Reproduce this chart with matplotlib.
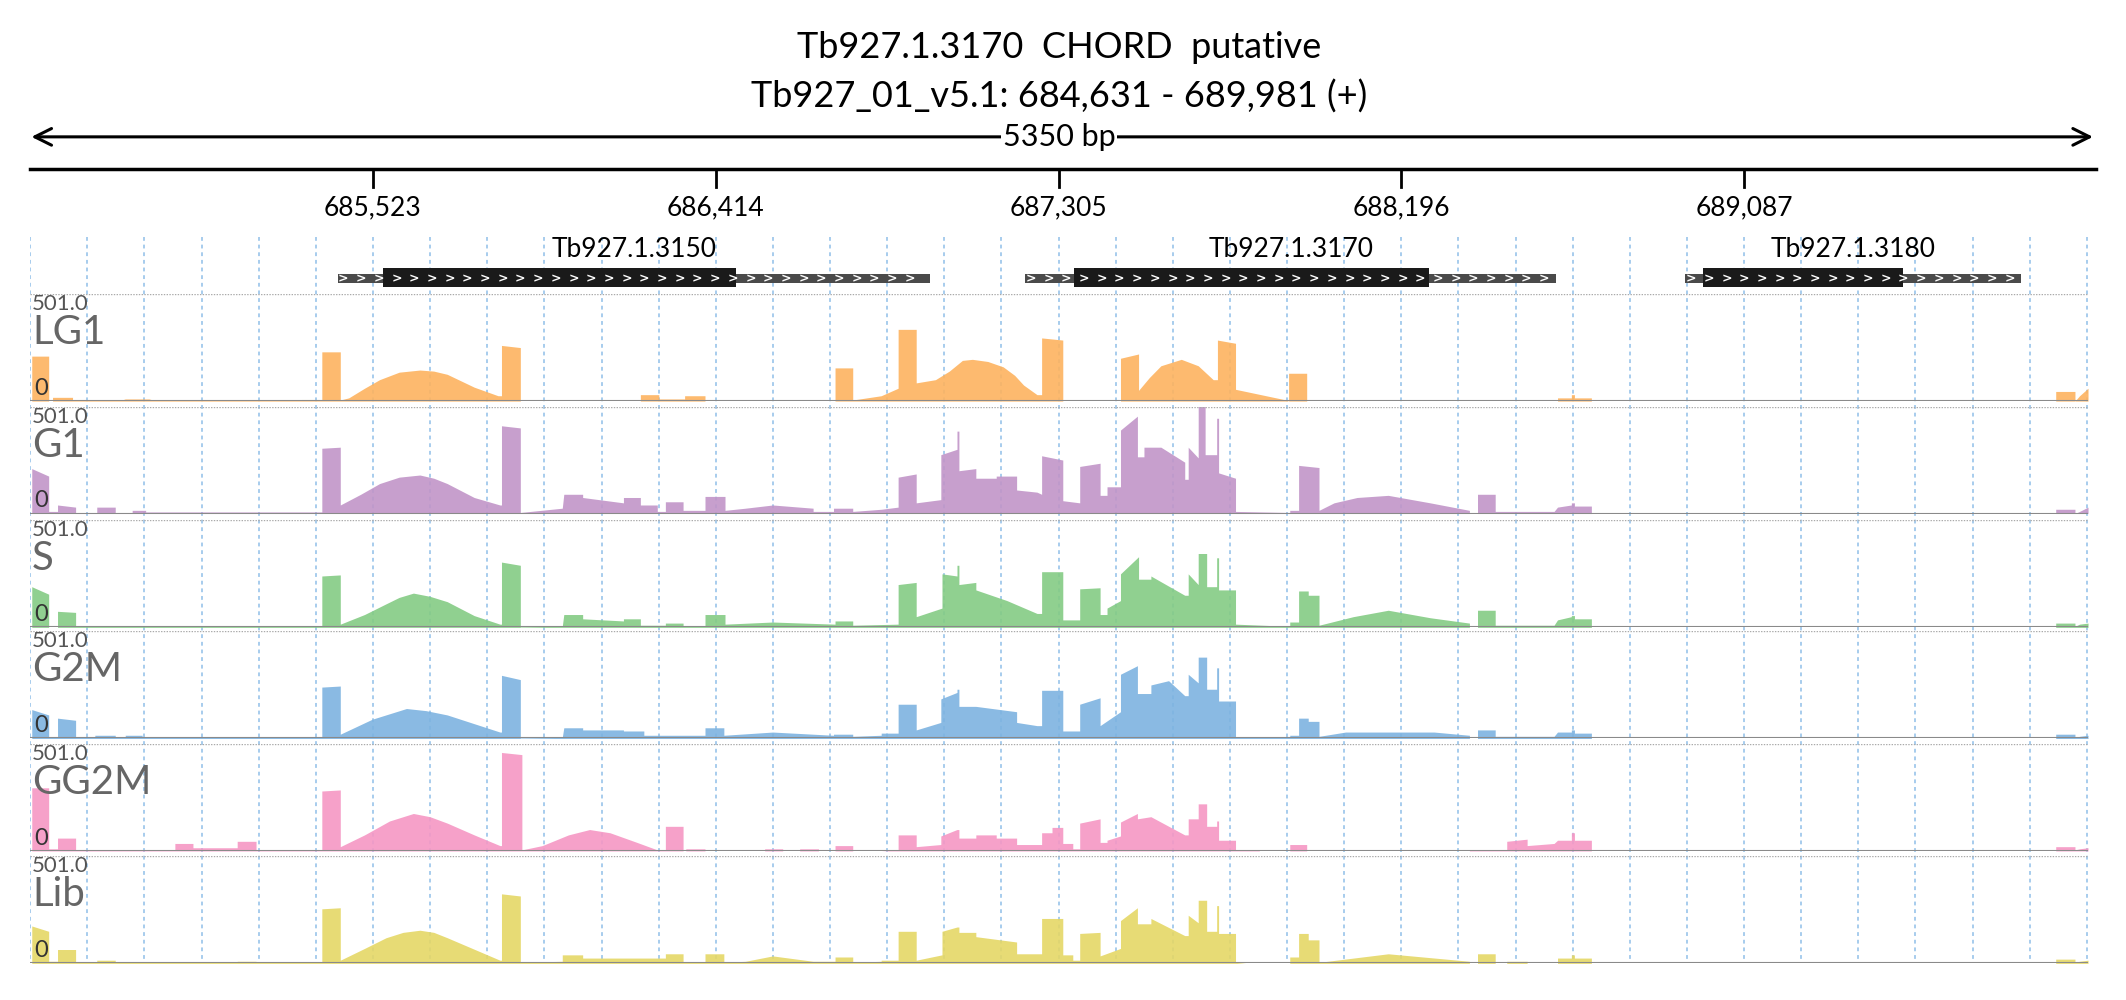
import numpy as np
import matplotlib
matplotlib.use("Agg")
import matplotlib.pyplot as plt

START, END = 684631, 689981
title1 = "Tb927.1.3170  CHORD  putative"
title2 = "Tb927_01_v5.1: 684,631 - 689,981 (+)"
tick_pos = [685523, 686414, 687305, 688196, 689087]
grid_step = 148.5

# genes: name, utr start/end, cds start/end (offsets from START)
gene_names = ["Tb927.1.3150", "Tb927.1.3170", "Tb927.1.3180"]
gene_utr = [(800, 2340), (2587, 3968), (4303, 5177)]
gene_cds = [(917, 1836), (2713, 3637), (4349, 4870)]

track_names = ["LG1", "G1", "S", "G2M", "GG2M", "Lib"]
track_colors = ["#fdb35f", "#c195c8", "#84cb84", "#7db3e0", "#f597c4", "#e5d766"]
track_max = 501.0

# coverage profiles: (offset bp, % of 501)
lg1 = [(0,0),(5,0),(5,42),(49,42),(49,0),(59,0),(59,3.5),(111,3.5),(111,1),(239,1),(248,2),(310,2),(320,1),(706,1),(706,1.5),(759,1.5),(759,46),(807,46),(807,1),(829,3),(870,12),(909,20),(960,27),(1014,29),(1050,28),(1085,25),(1120,19),(1155,13),(1217,5),(1226,5),(1226,52),(1275,50),(1275,0),(1587,0),(1587,6),(1635,6),(1635,2),(1702,2),(1702,5),(1755,5),(1755,0),(2093,0),(2093,31),(2139,31),(2139,1),(2213,5),(2257,12),(2257,67),(2304,67),(2304,17),(2354,20),(2390,28),(2424,38),(2450,39),(2490,37),(2530,32),(2560,24),(2583,15),(2618,6),(2630,6),(2630,59),(2685,57),(2685,0),(2835,0),(2835,40),(2882,44),(2882,10),(2910,22),(2940,33),(2993,39),(3037,33),(3076,20),(3087,20),(3087,57),(3134,54),(3134,11),(3266,1),(3272,0),(3272,26),(3319,26),(3319,0),(3971,0),(3971,3),(4007,3),(4007,6),(4015,6),(4015,3),(4059,3),(4059,0),(5266,0),(5266,9),(5316,9),(5316,0),(5328,5),(5350,12)]
g1 = [(5,0),(5,42),(49,35),(49,2),(72,2),(72,8),(119,6),(119,1),(174,1),(174,6),(222,6),(222,1),(266,1),(266,3),(301,3),(301,1.5),(759,1.5),(759,61),(807,62),(807,8),(860,18),(909,28),(960,34),(1014,36),(1050,33),(1085,28),(1155,15),(1222,8),(1226,8),(1226,82),(1275,80),(1275,1),(1384,5),(1388,18),(1437,18),(1437,15),(1543,10),(1543,15),(1587,15),(1587,8),(1631,8),(1631,2),(1652,2),(1652,11),(1698,11),(1698,3),(1755,3),(1755,16),(1807,16),(1807,3),(1860,5),(1931,8),(2036,5),(2036,2),(2089,2),(2089,5),(2139,5),(2139,2),(2213,4),(2257,6),(2257,34),(2304,37),(2304,10),(2368,13),(2368,55),(2410,60),(2410,77),(2415,77),(2415,40),(2459,42),(2459,33),(2512,33),(2512,35),(2565,35),(2565,22),(2618,20),(2630,18),(2630,54),(2685,50),(2685,12),(2729,10),(2729,44),(2782,47),(2782,17),(2800,17),(2800,25),(2835,25),(2835,78),(2879,91),(2879,53),(2896,53),(2896,62),(2940,62),(3002,48),(3002,32),(3011,32),(3011,62),(3037,52),(3037,100),(3055,100),(3055,55),(3085,55),(3085,89),(3090,89),(3090,38),(3134,33),(3134,2),(3275,1),(3275,3),(3298,3),(3298,45),(3351,43),(3351,3),(3390,10),(3450,15),(3531,17),(3640,10),(3742,3),(3742,0),(3763,0),(3763,18),(3809,18),(3809,2),(3962,2),(3971,6),(4007,8),(4007,10),(4015,10),(4015,7),(4059,7),(4059,0),(5266,0),(5266,4),(5316,4),(5316,0),(5328,2),(5350,6)]
s = [(5,0),(5,38),(49,31),(49,0),(72,0),(72,15),(119,14),(119,1),(759,1),(759,48),(807,49),(807,3),(870,12),(926,22),(960,28),(997,32),(1040,29),(1085,24),(1155,11),(1222,3),(1226,3),(1226,61),(1275,58),(1275,0.5),(1384,1),(1388,12),(1437,12),(1437,8),(1543,6),(1543,8),(1587,8),(1587,2),(1652,2),(1652,4),(1698,4),(1698,1),(1755,1),(1755,12),(1807,12),(1807,3),(1931,5),(2093,3),(2093,6),(2139,6),(2139,2),(2257,3),(2257,40),(2304,42),(2304,10),(2371,18),(2371,50),(2410,48),(2410,58),(2415,58),(2415,40),(2459,42),(2459,35),(2540,25),(2618,13),(2630,13),(2630,52),(2685,52),(2685,7),(2729,7),(2729,36),(2782,37),(2782,12),(2800,12),(2800,18),(2835,25),(2835,50),(2882,66),(2882,45),(2914,45),(2914,48),(3002,30),(3011,30),(3011,50),(3037,40),(3037,69),(3059,69),(3059,38),(3085,38),(3085,65),(3090,65),(3090,35),(3134,35),(3134,3),(3275,1),(3275,5),(3298,5),(3298,34),(3323,34),(3323,30),(3351,30),(3351,2),(3440,10),(3531,16),(3640,9),(3742,4),(3742,0),(3763,0),(3763,16),(3809,16),(3809,2),(3962,2),(3971,7),(4007,10),(4007,11),(4015,11),(4015,8),(4059,8),(4059,0),(5266,0),(5266,4),(5316,4),(5316,1),(5328,3),(5350,4)]
g2m = [(5,0),(5,27),(49,22),(49,1),(72,1),(72,19),(119,17),(119,1),(169,1),(169,3),(222,3),(222,1),(248,1),(248,3),(292,3),(292,1),(759,1),(759,48),(807,49),(807,4),(890,18),(979,28),(1030,26),(1085,22),(1222,6),(1226,6),(1226,59),(1275,55),(1275,0.5),(1384,1),(1388,10),(1437,10),(1437,8),(1543,8),(1543,7),(1596,7),(1596,3),(1755,3),(1755,10),(1804,10),(1804,3),(1931,6),(2089,3),(2089,4),(2139,4),(2139,2),(2213,3),(2213,5),(2257,5),(2257,32),(2304,32),(2304,8),(2368,15),(2368,37),(2410,43),(2410,46),(2415,46),(2415,30),(2459,30),(2565,25),(2565,15),(2618,12),(2630,12),(2630,45),(2685,45),(2685,7),(2729,7),(2729,32),(2782,38),(2782,12),(2835,25),(2835,60),(2879,68),(2879,42),(2914,42),(2914,50),(2960,54),(3002,40),(3011,40),(3011,60),(3037,52),(3037,76),(3059,76),(3059,46),(3085,46),(3085,66),(3090,66),(3090,35),(3134,35),(3134,1),(3275,1),(3275,3),(3298,3),(3298,19),(3323,19),(3323,16),(3351,16),(3351,2),(3420,6),(3650,6),(3742,3),(3742,0),(3763,0),(3763,8),(3809,8),(3809,2),(3962,2),(3971,6),(4007,6),(4007,8),(4015,8),(4015,5),(4059,5),(4059,0),(5266,0),(5266,4),(5316,4),(5316,1),(5328,2),(5350,3)]
gg2m = [(5,0),(5,59),(49,59),(49,2),(72,2),(72,12),(119,12),(119,1),(377,1),(377,7),(424,7),(424,3),(539,3),(539,9),(588,9),(588,1),(759,1),(759,56),(807,57),(807,4),(870,15),(935,28),(997,35),(1040,32),(1085,26),(1155,15),(1222,5),(1226,5),(1226,92),(1279,90),(1279,1),(1332,5),(1400,15),(1455,20),(1508,17),(1578,8),(1631,1),(1652,1),(1652,23),(1698,23),(1698,0),(1705,0),(1705,2),(1755,2),(1755,0),(1910,0),(1910,2),(1957,2),(1957,0),(2001,0),(2001,2),(2050,2),(2050,0),(2093,0),(2093,5),(2139,5),(2139,0),(2213,0),(2257,1),(2257,15),(2304,15),(2304,4),(2368,6),(2368,14),(2410,20),(2415,20),(2415,12),(2459,12),(2459,15),(2512,15),(2512,12),(2565,12),(2565,6),(2630,6),(2630,17),(2657,17),(2657,22),(2685,22),(2685,7),(2711,7),(2711,2),(2729,2),(2729,26),(2782,30),(2782,8),(2800,8),(2800,10),(2835,14),(2835,27),(2879,35),(2879,30),(2914,32),(3002,15),(3011,15),(3011,30),(3037,30),(3037,44),(3059,44),(3059,23),(3085,23),(3085,28),(3090,28),(3090,10),(3134,10),(3134,1),(3196,1),(3196,0),(3275,0),(3275,6),(3319,6),(3319,0),(3742,0),(3742,1),(3839,1),(3839,9),(3892,11),(3892,5),(3962,7),(3971,10),(4007,10),(4007,17),(4015,17),(4015,10),(4059,10),(4059,0),(5266,0),(5266,4),(5316,4),(5316,1),(5328,2),(5350,3)]
lib = [(5,0),(5,35),(49,30),(49,2),(72,2),(72,13),(119,13),(119,1),(174,1),(174,3),(222,3),(222,1),(539,1),(539,2),(588,2),(588,1),(759,1),(759,51),(807,52),(807,3),(870,14),(926,24),(970,29),(1014,31),(1050,29),(1085,24),(1222,3),(1226,3),(1226,65),(1275,63),(1275,1),(1384,2),(1384,8),(1437,8),(1437,5),(1652,5),(1652,9),(1698,9),(1698,1),(1755,1),(1755,9),(1804,9),(1804,1),(1860,2),(1931,7),(2036,2),(2093,2),(2093,6),(2139,6),(2139,1),(2213,2),(2213,3),(2257,3),(2257,30),(2304,30),(2304,3),(2371,8),(2371,30),(2410,34),(2415,34),(2415,29),(2459,29),(2459,25),(2565,20),(2565,9),(2630,9),(2630,42),(2685,42),(2685,8),(2711,8),(2711,3),(2729,3),(2729,28),(2782,29),(2782,7),(2835,14),(2835,40),(2879,52),(2879,37),(2914,37),(2914,42),(3002,26),(3011,26),(3011,45),(3037,38),(3037,59),(3059,59),(3059,30),(3085,30),(3085,54),(3090,54),(3090,28),(3134,28),(3134,1),(3160,0),(3275,0),(3275,6),(3298,6),(3298,28),(3323,28),(3323,22),(3351,22),(3351,1),(3531,9),(3742,2),(3742,0),(3763,0),(3763,9),(3809,9),(3809,0),(3839,0),(3839,2),(3892,2),(3892,0),(3971,0),(3971,5),(4007,5),(4007,8),(4015,8),(4015,5),(4059,5),(4059,0),(5266,0),(5266,4),(5316,4),(5316,1),(5328,2),(5350,3)]
profiles = [lg1, g1, s, g2m, gg2m, lib]

plt.rcParams['font.family'] = ['Lato', 'DejaVu Sans']
W, H = 1568.0, 738.0  # layout units
fig = plt.figure(figsize=(21.26, 10), dpi=100)
L, R = 22 / W, 1540 / W

# ruler / gene axes in layout units vertically
ax0 = fig.add_axes([L, 0, R - L, 1])
ax0.set_xlim(START, END)
ax0.set_ylim(H, 0)
ax0.axis('off')

mid = (START + END) / 2
ax0.text(mid, 35, title1, ha='center', va='center', fontsize=26)
ax0.text(mid, 71, title2, ha='center', va='center', fontsize=26)
ax0.annotate('', xy=(START - 3, 101), xytext=(END + 20, 101),
             arrowprops=dict(arrowstyle='<->', lw=2.2, color='black', mutation_scale=30), annotation_clip=False)
ax0.text(mid, 101, f"{END - START} bp", ha='center', va='center', fontsize=22,
         bbox=dict(facecolor='white', edgecolor='none', pad=1))
ax0.plot([START, END + 20], [125, 125], color='black', lw=2.5, clip_on=False)
for t in tick_pos:
    ax0.plot([t, t], [125, 138], color='black', lw=2)
    ax0.text(t, 153, f"{t:,}", ha='center', va='center', fontsize=19)

for x in np.arange(START + 1, END + 1, grid_step):
    ax0.plot([x, x], [175, 711], color='#8fbfe8', lw=1.1, ls=(0, (2.5, 2.5)), zorder=0)

for name, (u0, u1), (c0, c1) in zip(gene_names, gene_utr, gene_cds):
    ax0.fill_between([START + u0, START + u1], 202, 209, color='#4a4a4a', lw=0, zorder=2)
    ax0.fill_between([START + c0, START + c1], 198, 212, color='#1a1a1a', lw=0, zorder=3)
    for cx in np.arange(START + u0 + 15, START + u1 - 10, 46):
        ax0.text(cx, 205.5, '>', color='white', fontsize=9, ha='center', va='center',
                 fontweight='bold', family='DejaVu Sans', zorder=4)
    ax0.text(START + (u0 + u1) / 2, 184, name, ha='center', va='center', fontsize=19)

tops = [217, 300, 384, 466, 549, 632]
th = 79
for name, col, prof, top in zip(track_names, track_colors, profiles, tops):
    ax = fig.add_axes([L, 1 - (top + th) / H, R - L, th / H])
    ax.patch.set_alpha(0)
    off = np.array([p[0] for p in prof], float)
    val = np.array([p[1] for p in prof], float) * track_max / 100
    ax.fill_between(START + off, 0, val, color=col, alpha=0.9, lw=0)
    ax.set_xlim(START, END)
    ax.set_ylim(0, track_max)
    ax.axis('off')
    ax.axhline(0, color='#8a8a8a', lw=1.5)
    ax.axhline(track_max, color='#aaaaaa', lw=1, ls=(0, (1, 1)))
    ax.text(0.001, 1.0, f"{track_max:.1f}", transform=ax.transAxes, ha='left', va='top',
            fontsize=16, color='#555555')
    ax.text(0.001, 0.64, name, transform=ax.transAxes, ha='left', va='center',
            fontsize=29, color='#666666')
    ax.text(0.002, 0.02, "0", transform=ax.transAxes, ha='left', va='bottom',
            fontsize=17, color='#333333')

fig.savefig('out.png', dpi=100)
